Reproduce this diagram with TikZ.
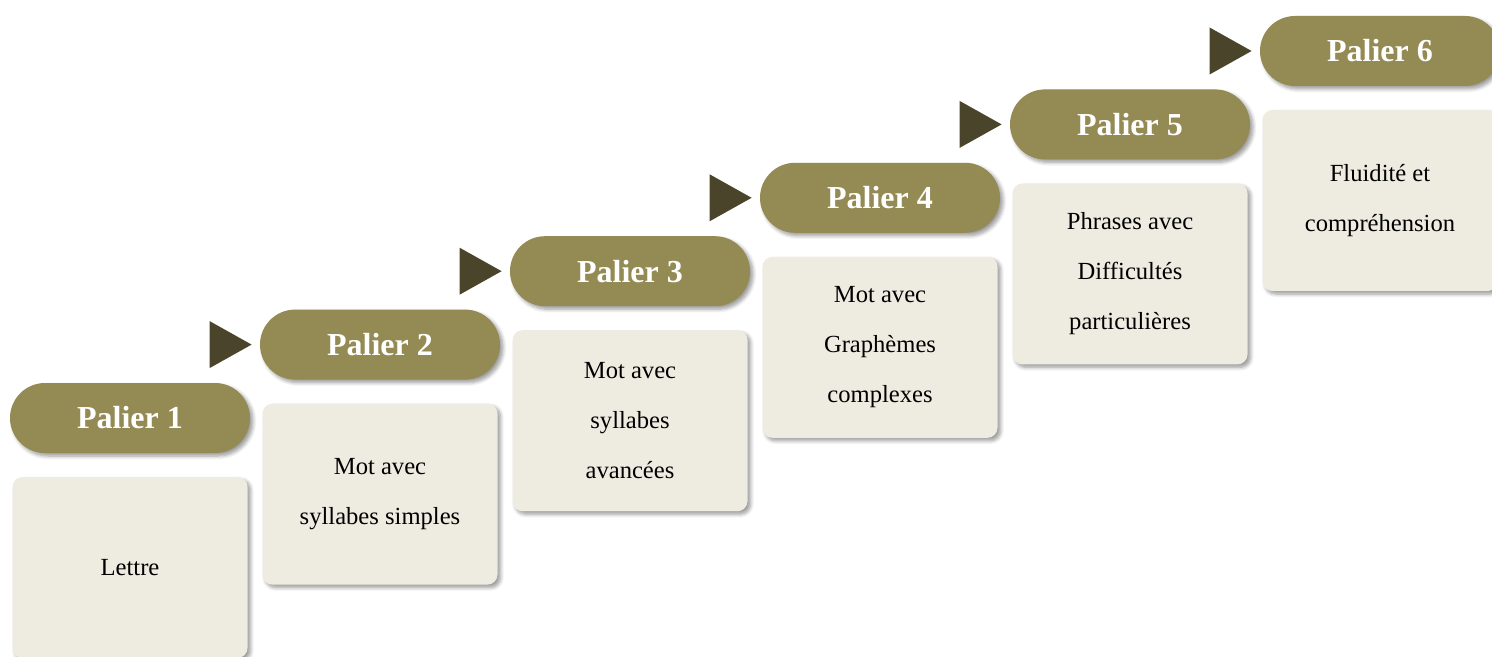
\documentclass[tikz,border=0pt]{standalone}
\usepackage{fontspec}
\setmainfont{Liberation Serif}
\usetikzlibrary{shapes.misc,shadows.blur}

\definecolor{olive}{HTML}{948A54}
\definecolor{fondbox}{HTML}{EEECE1}
\definecolor{fleche}{HTML}{4A452A}

\begin{document}
\begin{tikzpicture}[x=0.5pt,y=-0.5pt,
  palier/.style={rounded rectangle, fill=olive, text=white,
    minimum width=120pt, minimum height=35pt, inner sep=0pt,
    font=\fontsize{16}{18}\selectfont\bfseries,
    blur shadow={shadow xshift=1.5pt, shadow yshift=-1.5pt, shadow blur steps=6, shadow opacity=40}},
  contenu/.style={rectangle, rounded corners=5pt, fill=fondbox,
    minimum width=117.5pt, minimum height=90.5pt, inner sep=0pt,
    align=center, font=\fontsize{12.3}{25}\selectfont,
    blur shadow={shadow xshift=1.5pt, shadow yshift=-1.5pt, shadow blur steps=6, shadow opacity=40}}]
\useasboundingbox (0,0) rectangle (1492,657);

% Paliers et contenus
\foreach \i/\txt in {1/Lettre,
    2/{Mot avec\\syllabes simples},
    3/{Mot avec\\syllabes\\avancées},
    4/{Mot avec\\Graphèmes\\complexes},
    5/{Phrases avec\\Difficultés\\particulières},
    6/{Fluidité et\\compréhension}} {
  \pgfmathsetmacro{\px}{130+250*(\i-1)}
  \pgfmathsetmacro{\py}{418-73.4*(\i-1)}
  \node[contenu] (c\i) at (\px,\py+149.5) {\txt};
  \node[palier] (p\i) at (\px,\py) {Palier \i};
}

% Fleches
\foreach \i in {2,...,6} {
  \fill[fleche] ([xshift=-4pt]p\i.west) -- ++(-21pt,11.75pt) -- ++(0,-23.5pt) -- cycle;
}
\end{tikzpicture}
\end{document}
